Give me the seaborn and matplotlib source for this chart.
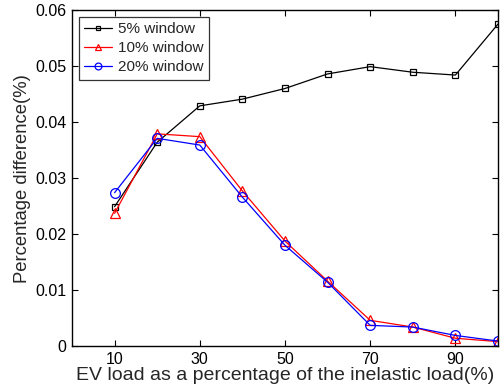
import matplotlib
matplotlib.use("Agg")
import matplotlib.pyplot as plt
import seaborn as sns
import pandas as pd

# EV load as a percentage of the inelastic load (%)
ev_load = [10, 20, 30, 40, 50, 60, 70, 80, 90, 100]

# Percentage difference for each window size
win_5 = [0.0249, 0.0364, 0.0429, 0.0441, 0.0460, 0.0486, 0.0499, 0.0489, 0.0484, 0.0575]
win_10 = [0.0237, 0.0379, 0.0374, 0.0277, 0.01875, 0.0116, 0.0046, 0.0034, 0.0014, 0.0008]
win_20 = [0.0274, 0.0371, 0.0359, 0.0266, 0.0180, 0.0114, 0.0037, 0.0034, 0.0019, 0.0009]

series_names = ["5% window", "10% window", "20% window"]
series_vals = [win_5, win_10, win_20]
colors = ["black", "red", "blue"]
markers = ["s", "^", "o"]

x_ticks = [10, 30, 50, 70, 90]
y_ticks = [0, 0.01, 0.02, 0.03, 0.04, 0.05, 0.06]
y_tick_labels = ["0", "0.01", "0.02", "0.03", "0.04", "0.05", "0.06"]

sns.set_style("white")
plt.rcParams["font.family"] = ["Liberation Sans", "DejaVu Sans"]

fig = plt.figure(figsize=(5.0, 3.88), dpi=100)
ax = fig.add_axes([0.144, 0.108, 0.852, 0.866])

for name, vals, c, m in zip(series_names, series_vals, colors, markers):
    df = pd.DataFrame({"x": ev_load, "y": vals})
    msize = 5 if m == "s" else 7
    sns.lineplot(data=df, x="x", y="y", ax=ax, color=c, linewidth=0.9,
                 marker=m, markersize=msize, markerfacecolor="none",
                 markeredgecolor=c, markeredgewidth=0.9, label=name)

ax.set_xlim(0, 100)
ax.set_ylim(0, 0.06)
ax.set_xticks(x_ticks)
ax.set_yticks(y_ticks)
ax.set_yticklabels(y_tick_labels)
ax.tick_params(direction="in", length=4, width=0.8, top=True, right=True,
               bottom=True, left=True, labelsize=11.5, colors="black", pad=4)
for s in ax.spines.values():
    s.set_visible(True)
    s.set_color("black")
    s.set_linewidth(1.0)

ax.set_xlabel("EV load as a percentage of the inelastic load(%)", fontsize=14, labelpad=0)
ax.set_ylabel("Percentage difference(%)", fontsize=13.3, labelpad=3)

leg = ax.legend(loc="upper left", fontsize=11, frameon=True, fancybox=False,
                edgecolor="black", borderaxespad=0.45, handlelength=1.85,
                labelspacing=0.33, borderpad=0.35, handletextpad=0.35,
                markerscale=0.7)
leg.get_frame().set_linewidth(0.9)

fig.savefig("out.png", dpi=100)
